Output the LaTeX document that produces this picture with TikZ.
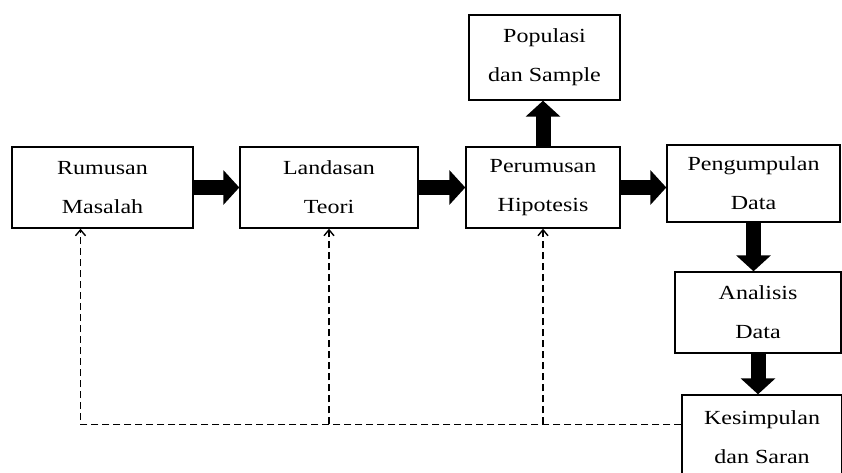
\documentclass[tikz,border=0pt]{standalone}
\usepackage{fontspec}
\setmainfont{Liberation Serif}[FakeStretch=1.2]
\usetikzlibrary{calc,arrows.meta}

\tikzset{
    box/.style={draw, line width=1.4pt, align=center, inner sep=0pt,
        font=\fontsize{20}{39}\selectfont, text=black},
    blocklink/.style={line width=15pt, -{Triangle[width=34pt,length=16pt]}},
    feedback/.style={dashed, dash pattern=on 7pt off 4pt, line width=1.4pt,
        -{Straight Barb[length=6pt,width=10pt]}}
}

\begin{document}
\begin{tikzpicture}[x=1pt,y=1pt]
    \clip (0,0) rectangle (842,472);
    \node[box, minimum width=181pt, minimum height=81pt] (rumusan) at (102.5,284.5) {Rumusan\\Masalah};
    \node[box, minimum width=178pt, minimum height=81pt] (landasan) at (329,284.5) {Landasan\\Teori};
    \node[box, minimum width=154pt, minimum height=81pt] (perumusan) at (543,284.5) {Perumusan\\Hipotesis};
    \node[box, minimum width=151pt, minimum height=85pt] (populasi) at (544.5,414.5) {Populasi\\dan Sample};
    \node[box, minimum width=173pt, minimum height=77pt] (pengumpulan) at (753.5,288.5) {Pengumpulan\\Data};
    \node[box, minimum width=166pt, minimum height=81pt] (analisis) at (758,159.5) {Analisis\\Data};
    \node[box, minimum width=160pt, minimum height=85pt] (kesimpulan) at (762,34.5) {Kesimpulan\\dan Saran};
    % main flow
    \draw[blocklink] (rumusan.east) -- (landasan.west);
    \draw[blocklink] (landasan.east) -- (perumusan.west);
    \draw[blocklink] (perumusan.east) -- (pengumpulan.west |- perumusan.east);
    \draw[blocklink] (perumusan.north) -- (perumusan.north |- populasi.south);
    \draw[blocklink] (pengumpulan.south) -- (pengumpulan.south |- analisis.north);
    \draw[blocklink] (analisis.south) -- (analisis.south |- kesimpulan.north);
    % feedback back to the earlier steps
    \coordinate (back) at ($(kesimpulan.north west)+(0,-30)$);
    \draw[feedback] (back) -| ($(rumusan.south)+(-22,0)$);
    \draw[feedback] (back -| landasan.south) -- (landasan.south);
    \draw[feedback] (back -| perumusan.south) -- (perumusan.south);
\end{tikzpicture}
\end{document}
